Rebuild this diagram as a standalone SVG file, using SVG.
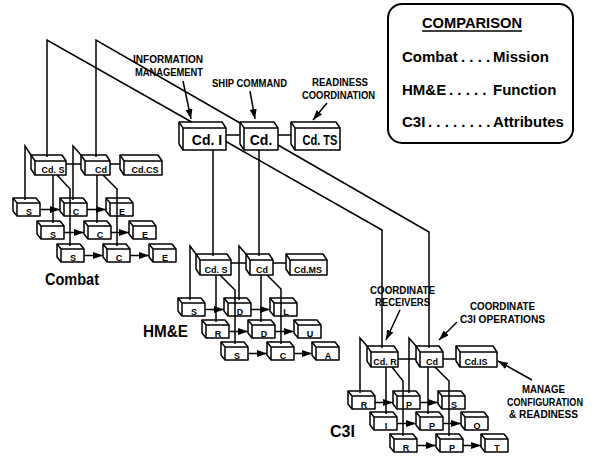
<svg xmlns="http://www.w3.org/2000/svg" width="596" height="457" viewBox="0 0 596 457">
<style>
.bx{fill:#fff;stroke:#000;stroke-width:1.5;stroke-linejoin:round}
.ln{fill:none;stroke:#000;stroke-width:1.5}
.ar{fill:none;stroke:#000;stroke-width:1.5;marker-end:url(#ah)}
.t{font-family:"Liberation Sans",Arial,Helvetica,sans-serif;font-weight:bold;fill:#000}
.big{font-size:14px;text-anchor:middle}
.cd{font-size:9px;text-anchor:middle}
.sm{font-size:9px;text-anchor:middle}
.an{font-size:11px}
.an2{font-size:10px}
.lab{font-size:17px}
.cmp{font-size:15px}
</style>
<defs>
<marker id="ah" viewBox="0 0 10 7" refX="10" refY="3.5" markerWidth="10" markerHeight="7" markerUnits="userSpaceOnUse" orient="auto"><path d="M0,0L10,3.5L0,7Z" fill="#000"/></marker>
<g id="sb"><path class="bx" d="M-4,-5H19L23,0V13H0L-4,8Z"/><path class="ln" d="M-4,-5L0,0H23M0,0V13"/></g>
</defs>
<rect width="596" height="457" fill="#fff"/>

<!-- Comparison legend -->
<g id="comparison">
<rect x="388" y="4" width="185" height="139" rx="14" fill="#fff" stroke="#000" stroke-width="2"/>
<text class="t cmp" x="472" y="28" text-anchor="middle" textLength="100" lengthAdjust="spacingAndGlyphs">COMPARISON</text>
<line x1="422" y1="31" x2="522" y2="31" stroke="#000" stroke-width="1.3"/>
<text class="t cmp" y="62"><tspan x="402">Combat</tspan><tspan x="461">. . . .</tspan><tspan x="493">Mission</tspan></text>
<text class="t cmp" y="95"><tspan x="402">HM&amp;E</tspan><tspan x="449">. . . . .</tspan><tspan x="493">Function</tspan></text>
<text class="t cmp" y="127"><tspan x="402">C3I</tspan><tspan x="428">. . . . . . . .</tspan><tspan x="493">Attributes</tspan></text>
</g>

<!-- Top cluster -->
<g id="cd-i"><path class="bx" d="M179,122H222L226,128V150H183L179,144Z"/><path class="ln" d="M179,122L183,128H226M183,128V150"/><text class="t big" x="207" y="145">Cd. I</text></g>
<g id="cd-ship"><path class="bx" d="M240,122H274L278,128V150H244L240,144Z"/><path class="ln" d="M240,122L244,128H278M244,128V150"/><text class="t big" x="261" y="145">Cd.</text></g>
<g id="cd-ts"><path class="bx" d="M291,122H336L340,128V150H295L291,144Z"/><path class="ln" d="M291,122L295,128H340M295,128V150"/><text class="t big" x="320" y="145" textLength="35" lengthAdjust="spacingAndGlyphs">Cd. TS</text></g>

<!-- Combat cluster -->
<g id="combat-cds"><path class="bx" d="M31,155H62L66,161V175H35L31,169Z"/><path class="ln" d="M31,155L35,161H66M35,161V175"/><text class="t cd" x="53" y="173">Cd. S</text></g>
<g id="combat-cd"><path class="bx" d="M81,155H106L110,161V175H85L81,169Z"/><path class="ln" d="M81,155L85,161H110M85,161V175"/><text class="t cd" x="101" y="173">Cd</text></g>
<g id="combat-cdcs"><path class="bx" d="M120,155H158L162,161V175H124L120,169Z"/><path class="ln" d="M120,155L124,161H162M124,161V175"/><text class="t cd" x="145" y="173">Cd.CS</text></g>
<g id="combat-r1-s"><use href="#sb" x="17" y="203"/><text class="t sm" x="29" y="215">S</text></g>
<g id="combat-r1-c"><use href="#sb" x="64" y="203"/><text class="t sm" x="76" y="215">C</text></g>
<g id="combat-r1-e"><use href="#sb" x="110" y="203"/><text class="t sm" x="122" y="215">E</text></g>
<g id="combat-r2-s"><use href="#sb" x="41" y="226"/><text class="t sm" x="53" y="238">S</text></g>
<g id="combat-r2-c"><use href="#sb" x="88" y="226"/><text class="t sm" x="100" y="238">C</text></g>
<g id="combat-r2-e"><use href="#sb" x="133" y="226"/><text class="t sm" x="145" y="238">E</text></g>
<g id="combat-r3-s"><use href="#sb" x="61" y="249"/><text class="t sm" x="73" y="261">S</text></g>
<g id="combat-r3-c"><use href="#sb" x="107" y="249"/><text class="t sm" x="119" y="261">C</text></g>
<g id="combat-r3-e"><use href="#sb" x="153" y="249"/><text class="t sm" x="165" y="261">E</text></g>

<!-- HM&E cluster -->
<g id="hme-cds"><path class="bx" d="M196,254H227L231,260V275H200L196,269Z"/><path class="ln" d="M196,254L200,260H231M200,260V275"/><text class="t cd" x="216" y="273">Cd. S</text></g>
<g id="hme-cd"><path class="bx" d="M246,254H269L273,260V275H250L246,269Z"/><path class="ln" d="M246,254L250,260H273M250,260V275"/><text class="t cd" x="262" y="273">Cd</text></g>
<g id="hme-cdms"><path class="bx" d="M286,254H323L327,260V275H290L286,269Z"/><path class="ln" d="M286,254L290,260H327M290,260V275"/><text class="t cd" x="308" y="273">Cd.MS</text></g>
<g id="hme-r1-s"><use href="#sb" x="182" y="303"/><text class="t sm" x="194" y="315">S</text></g>
<g id="hme-r1-d"><use href="#sb" x="228" y="303"/><text class="t sm" x="240" y="315">D</text></g>
<g id="hme-r1-l"><use href="#sb" x="274" y="303"/><text class="t sm" x="286" y="315">L</text></g>
<g id="hme-r2-r"><use href="#sb" x="206" y="325"/><text class="t sm" x="218" y="337">R</text></g>
<g id="hme-r2-d"><use href="#sb" x="252" y="325"/><text class="t sm" x="264" y="337">D</text></g>
<g id="hme-r2-u"><use href="#sb" x="298" y="325"/><text class="t sm" x="310" y="337">U</text></g>
<g id="hme-r3-s"><use href="#sb" x="225" y="347"/><text class="t sm" x="237" y="359">S</text></g>
<g id="hme-r3-c"><use href="#sb" x="271" y="347"/><text class="t sm" x="283" y="359">C</text></g>
<g id="hme-r3-a"><use href="#sb" x="316" y="347"/><text class="t sm" x="328" y="359">A</text></g>

<!-- C3I cluster -->
<g id="c3i-cdr"><path class="bx" d="M367,346H394L398,352V367H371L367,361Z"/><path class="ln" d="M367,346L371,352H398M371,352V367"/><text class="t cd" x="385" y="365">Cd. R</text></g>
<g id="c3i-cd"><path class="bx" d="M416,346H439L443,352V367H420L416,361Z"/><path class="ln" d="M416,346L420,352H443M420,352V367"/><text class="t cd" x="432" y="365">Cd</text></g>
<g id="c3i-cdis"><path class="bx" d="M456,346H493L497,352V367H460L456,361Z"/><path class="ln" d="M456,346L460,352H497M460,352V367"/><text class="t cd" x="476" y="365">Cd.IS</text></g>
<g id="c3i-r1-r"><use href="#sb" x="352" y="396"/><text class="t sm" x="364" y="408">R</text></g>
<g id="c3i-r1-p"><use href="#sb" x="397" y="396"/><text class="t sm" x="409" y="408">P</text></g>
<g id="c3i-r1-s"><use href="#sb" x="442" y="396"/><text class="t sm" x="454" y="408">S</text></g>
<g id="c3i-r2-i"><use href="#sb" x="374" y="417"/><text class="t sm" x="386" y="429">I</text></g>
<g id="c3i-r2-p"><use href="#sb" x="420" y="417"/><text class="t sm" x="432" y="429">P</text></g>
<g id="c3i-r2-o"><use href="#sb" x="465" y="417"/><text class="t sm" x="477" y="429">O</text></g>
<g id="c3i-r3-r"><use href="#sb" x="394" y="439"/><text class="t sm" x="406" y="451">R</text></g>
<g id="c3i-r3-p"><use href="#sb" x="440" y="439"/><text class="t sm" x="452" y="451">P</text></g>
<g id="c3i-r3-t"><use href="#sb" x="485" y="439"/><text class="t sm" x="497" y="451">T</text></g>

<!-- Cluster labels -->
<g id="labels">
<text class="t lab" x="45" y="285" textLength="54" lengthAdjust="spacingAndGlyphs">Combat</text>
<text class="t lab" x="143" y="337" textLength="45" lengthAdjust="spacingAndGlyphs">HM&amp;E</text>
<text class="t lab" x="330" y="437" textLength="25" lengthAdjust="spacingAndGlyphs">C3I</text>
</g>

<!-- Annotations -->
<g id="annotations">
<text class="t an" x="133" y="63" textLength="70" lengthAdjust="spacingAndGlyphs">INFORMATION</text>
<text class="t an" x="135" y="76" textLength="68" lengthAdjust="spacingAndGlyphs">MANAGEMENT</text>
<text class="t an" x="212" y="87" textLength="75" lengthAdjust="spacingAndGlyphs">SHIP COMMAND</text>
<text class="t an" x="312" y="86" textLength="56" lengthAdjust="spacingAndGlyphs">READINESS</text>
<text class="t an" x="302" y="99" textLength="73" lengthAdjust="spacingAndGlyphs">COORDINATION</text>
<text class="t an" x="370" y="294" textLength="65" lengthAdjust="spacingAndGlyphs">COORDINATE</text>
<text class="t an" x="375" y="306" textLength="55" lengthAdjust="spacingAndGlyphs">RECEIVERS</text>
<text class="t an" x="470" y="310" textLength="65" lengthAdjust="spacingAndGlyphs">COORDINATE</text>
<text class="t an" x="460" y="323" textLength="85" lengthAdjust="spacingAndGlyphs">C3I OPERATIONS</text>
<text class="t an2" x="543.5" y="393" text-anchor="middle" textLength="43" lengthAdjust="spacingAndGlyphs">MANAGE</text>
<text class="t an2" x="545" y="406" text-anchor="middle" textLength="76" lengthAdjust="spacingAndGlyphs">CONFIGURATION</text>
<text class="t an2" x="543.5" y="418" text-anchor="middle" textLength="69" lengthAdjust="spacingAndGlyphs">&amp; READINESS</text>
</g>

<!-- Connectors -->
<g id="connectors">
<!-- annotation arrows -->
<path class="ar" d="M183,81L191,119"/>
<path class="ar" d="M250,91L255,119"/>
<path class="ar" d="M327,103L313,120"/>
<path class="ar" d="M400,310L386,340"/>
<path class="ar" d="M457,322L439,340"/>
<path class="ar" d="M532,380L498,361"/>
<!-- long structure lines -->
<path class="ln" d="M47,157V40L191.6,122M226,141.5L382,230V348"/>
<path class="ln" d="M96,157V40L240,123M278,145L429,232V348"/>
<path class="ln" d="M213,150V256M259,150V256"/>
<path class="ln" d="M226,135H240M278,135H291"/>
<!-- combat -->
<path class="ln" d="M66,164H81M110,164H120"/>
<path class="ln" d="M31,155L25,146V200M53,175V223M57,175L70,189V246"/>
<path class="ln" d="M81,155L73,146V200M97,175V223M103,175L117,189V246"/>
<path class="ar" d="M40,209.5H60"/>
<path class="ar" d="M87,209.5H106"/>
<path class="ar" d="M64,232.5H84"/>
<path class="ar" d="M111,232.5H129"/>
<path class="ar" d="M84,255.5H103"/>
<path class="ar" d="M130,255.5H149"/>
<!-- HM&E -->
<path class="ln" d="M231,263H246M273,263H286"/>
<path class="ln" d="M196,254L190,246V300M216,275V322M220,275L235,290V344"/>
<path class="ln" d="M246,254L239,246V300M261,275V322M267,275L281,289V344"/>
<path class="ar" d="M205,309.5H224"/>
<path class="ar" d="M251,309.5H270"/>
<path class="ar" d="M229,331.5H248"/>
<path class="ar" d="M275,331.5H294"/>
<path class="ar" d="M248,353.5H267"/>
<path class="ar" d="M294,353.5H312"/>
<!-- C3I -->
<path class="ln" d="M398,359H416M443,359H456"/>
<path class="ln" d="M367,346L360,338V393M386,367V414M392,367L403,381V436"/>
<path class="ln" d="M416,346L409,338V393M428,367V414M435,367L449,381V436"/>
<path class="ar" d="M375,402.5H393"/>
<path class="ar" d="M420,402.5H438"/>
<path class="ar" d="M397,423.5H416"/>
<path class="ar" d="M443,423.5H461"/>
<path class="ar" d="M417,445.5H436"/>
<path class="ar" d="M463,445.5H481"/>
</g>
</svg>
